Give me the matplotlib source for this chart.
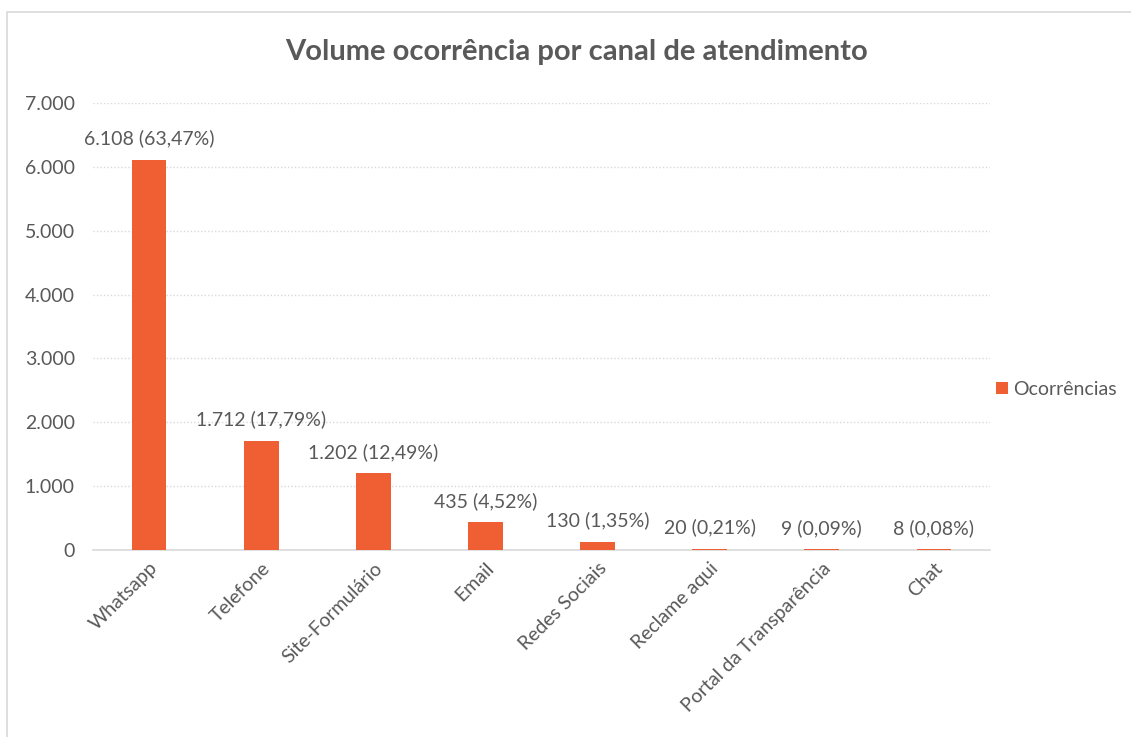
import matplotlib.pyplot as plt
from matplotlib.patches import Rectangle
from matplotlib.ticker import FuncFormatter

canais = ['Whatsapp', 'Telefone', 'Site-Formulário', 'Email', 'Redes Sociais',
          'Reclame aqui', 'Portal da Transparência', 'Chat']
ocorrencias = [6108, 1712, 1202, 435, 130, 20, 9, 8]
percentuais = ['63,47%', '17,79%', '12,49%', '4,52%', '1,35%', '0,21%', '0,09%', '0,08%']
y_ticks = [0, 1000, 2000, 3000, 4000, 5000, 6000, 7000]

bar_color = '#F05F33'
text_color = '#595959'
grid_color = '#D9D9D9'

plt.rcParams['font.family'] = ['Lato', 'DejaVu Sans']

fig = plt.figure(figsize=(11.31, 7.37), dpi=100)

# chart border (excel style)
fig.patches.append(Rectangle((7 / 1131, -0.1), 1.2, 1.1 - 12 / 737, transform=fig.transFigure,
                             fill=False, edgecolor='#D9D9D9', linewidth=1.2))

ax = fig.add_axes([93 / 1131, 1 - 550 / 737, (990 - 93) / 1131, (550 - 103) / 737])

x = list(range(len(canais)))
bars = ax.bar(x, ocorrencias, width=0.31, color=bar_color, label='Ocorrências', zorder=3)

ax.set_ylim(0, 7000)
ax.set_xlim(-0.5, len(canais) - 0.5)
ax.set_yticks(y_ticks)


def fmt_milhar(v, pos):
    return f'{int(v):,}'.replace(',', '.')


ax.yaxis.set_major_formatter(FuncFormatter(fmt_milhar))
ax.grid(axis='y', linestyle=(0, (1, 1.5)), color=grid_color, linewidth=1, zorder=0)

for s in ['top', 'right', 'left']:
    ax.spines[s].set_visible(False)
ax.spines['bottom'].set_color(grid_color)
ax.spines['bottom'].set_linewidth(1.2)
ax.tick_params(axis='both', length=0, colors=text_color, labelsize=14)
ax.tick_params(axis='y', pad=13)

ax.set_xticks(x)
ax.set_xticklabels(canais, rotation=45, ha='right', rotation_mode='anchor')
for lbl in ax.get_xticklabels():
    lbl.set_y(-0.01)

for xi, v, p in zip(x, ocorrencias, percentuais):
    ax.annotate(f'{fmt_milhar(v, None)} ({p})', (xi, v), xytext=(0, 9), textcoords='offset points',
                ha='center', va='bottom', fontsize=14, color=text_color)

fig.text(577 / 1131, 1 - 52 / 737, 'Volume ocorrência por canal de atendimento',
         ha='center', va='center', fontsize=21, fontweight='bold', color=text_color)

ax.legend(loc='center left', bbox_to_anchor=(0.987, 0.36), frameon=False, fontsize=14,
          labelcolor=text_color, handlelength=0.6, handleheight=0.6, handletextpad=0.3)

fig.savefig('out.png', dpi=100)
